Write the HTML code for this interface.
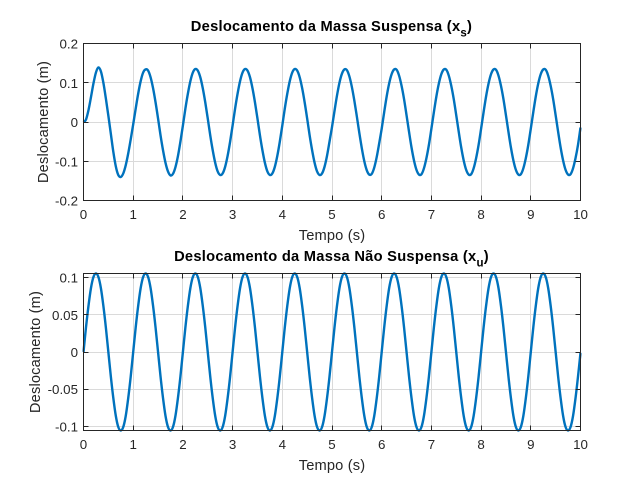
<!DOCTYPE html>
<html lang="pt">
<head>
<meta charset="utf-8">
<title>Deslocamento das Massas</title>
<style>
html,body{margin:0;padding:0;background:#fff;}
svg{display:block;font-family:"Liberation Sans",Arial,sans-serif;}
</style>
</head>
<body>
<svg id="figure" xmlns="http://www.w3.org/2000/svg" width="642" height="486" viewBox="0 0 642 486"></svg>
<script>
const timeValues = [
0,0.05,0.1,0.15,0.2,0.25,0.3,0.35,0.4,0.45,0.5,0.55,0.6,0.65,0.7,0.75,0.8,0.85,0.9,0.95,
1,1.05,1.1,1.15,1.2,1.25,1.3,1.35,1.4,1.45,1.5,1.55,1.6,1.65,1.7,1.75,1.8,1.85,1.9,1.95,
2,2.05,2.1,2.15,2.2,2.25,2.3,2.35,2.4,2.45,2.5,2.55,2.6,2.65,2.7,2.75,2.8,2.85,2.9,2.95,
3,3.05,3.1,3.15,3.2,3.25,3.3,3.35,3.4,3.45,3.5,3.55,3.6,3.65,3.7,3.75,3.8,3.85,3.9,3.95,
4,4.05,4.1,4.15,4.2,4.25,4.3,4.35,4.4,4.45,4.5,4.55,4.6,4.65,4.7,4.75,4.8,4.85,4.9,4.95,
5,5.05,5.1,5.15,5.2,5.25,5.3,5.35,5.4,5.45,5.5,5.55,5.6,5.65,5.7,5.75,5.8,5.85,5.9,5.95,
6,6.05,6.1,6.15,6.2,6.25,6.3,6.35,6.4,6.45,6.5,6.55,6.6,6.65,6.7,6.75,6.8,6.85,6.9,6.95,
7,7.05,7.1,7.15,7.2,7.25,7.3,7.35,7.4,7.45,7.5,7.55,7.6,7.65,7.7,7.75,7.8,7.85,7.9,7.95,
8,8.05,8.1,8.15,8.2,8.25,8.3,8.35,8.4,8.45,8.5,8.55,8.6,8.65,8.7,8.75,8.8,8.85,8.9,8.95,
9,9.05,9.1,9.15,9.2,9.25,9.3,9.35,9.4,9.45,9.5,9.55,9.6,9.65,9.7,9.75,9.8,9.85,9.9,9.95,
10];
const sprungDisplacement = [
0,0.006,0.030,0.063,0.098,0.126,0.139,0.129,0.100,0.060,0.016,-0.030,-0.076,-0.113,-0.135,-0.140,-0.131,-0.110,-0.080,-0.044,
-0.006,0.034,0.072,0.104,0.126,0.134,0.131,0.114,0.086,0.050,0.009,-0.034,-0.072,-0.104,-0.126,-0.136,-0.132,-0.115,-0.087,-0.050,
-0.009,0.034,0.072,0.104,0.126,0.135,0.131,0.114,0.086,0.050,0.009,-0.034,-0.072,-0.104,-0.126,-0.135,-0.131,-0.114,-0.086,-0.050,
-0.009,0.034,0.072,0.104,0.126,0.135,0.131,0.114,0.086,0.050,0.009,-0.034,-0.072,-0.104,-0.126,-0.135,-0.131,-0.114,-0.086,-0.050,
-0.009,0.034,0.072,0.104,0.126,0.135,0.131,0.114,0.086,0.050,0.009,-0.034,-0.072,-0.104,-0.126,-0.135,-0.131,-0.114,-0.086,-0.050,
-0.013,0.028,0.067,0.100,0.123,0.134,0.132,0.116,0.089,0.054,0.014,-0.028,-0.067,-0.100,-0.123,-0.134,-0.132,-0.116,-0.089,-0.054,
-0.017,0.025,0.065,0.098,0.122,0.134,0.133,0.118,0.092,0.058,0.017,-0.025,-0.065,-0.098,-0.122,-0.134,-0.133,-0.118,-0.092,-0.058,
-0.017,0.025,0.065,0.098,0.122,0.134,0.133,0.118,0.092,0.058,0.017,-0.025,-0.065,-0.098,-0.122,-0.134,-0.133,-0.118,-0.092,-0.058,
-0.017,0.025,0.065,0.098,0.122,0.134,0.133,0.118,0.092,0.058,0.017,-0.025,-0.065,-0.098,-0.122,-0.134,-0.133,-0.118,-0.092,-0.058,
-0.017,0.025,0.065,0.098,0.122,0.134,0.133,0.118,0.092,0.058,0.017,-0.025,-0.065,-0.098,-0.122,-0.134,-0.133,-0.118,-0.092,-0.058,
-0.014];
const unsprungDisplacement = [
0,0.033,0.062,0.086,0.101,0.1057,0.101,0.086,0.062,0.033,0,-0.033,-0.062,-0.086,-0.101,-0.1057,-0.101,-0.086,-0.062,-0.033,
0,0.033,0.062,0.086,0.101,0.1057,0.101,0.086,0.062,0.033,0,-0.033,-0.062,-0.086,-0.101,-0.1057,-0.101,-0.086,-0.062,-0.033,
0,0.033,0.062,0.086,0.101,0.1057,0.101,0.086,0.062,0.033,0,-0.033,-0.062,-0.086,-0.101,-0.1057,-0.101,-0.086,-0.062,-0.033,
0,0.033,0.062,0.086,0.101,0.1057,0.101,0.086,0.062,0.033,0,-0.033,-0.062,-0.086,-0.101,-0.1057,-0.101,-0.086,-0.062,-0.033,
0,0.033,0.062,0.086,0.101,0.1057,0.101,0.086,0.062,0.033,0,-0.033,-0.062,-0.086,-0.101,-0.1057,-0.101,-0.086,-0.062,-0.033,
0,0.033,0.062,0.086,0.101,0.1057,0.101,0.086,0.062,0.033,0,-0.033,-0.062,-0.086,-0.101,-0.1057,-0.101,-0.086,-0.062,-0.033,
0,0.033,0.062,0.086,0.101,0.1057,0.101,0.086,0.062,0.033,0,-0.033,-0.062,-0.086,-0.101,-0.1057,-0.101,-0.086,-0.062,-0.033,
0,0.033,0.062,0.086,0.101,0.1057,0.101,0.086,0.062,0.033,0,-0.033,-0.062,-0.086,-0.101,-0.1057,-0.101,-0.086,-0.062,-0.033,
0,0.033,0.062,0.086,0.101,0.1057,0.101,0.086,0.062,0.033,0,-0.033,-0.062,-0.086,-0.101,-0.1057,-0.101,-0.086,-0.062,-0.033,
0,0.033,0.062,0.086,0.101,0.1057,0.101,0.086,0.062,0.033,0,-0.033,-0.062,-0.086,-0.101,-0.1057,-0.101,-0.086,-0.062,-0.033,
-0.001];
const xTicks = [0,1,2,3,4,5,6,7,8,9,10];
const xTickLabels = ["0","1","2","3","4","5","6","7","8","9","10"];
const sprungYTicks = [-0.2,-0.1,0,0.1,0.2];
const sprungYTickLabels = ["-0.2","-0.1","0","0.1","0.2"];
const sprungYLimits = [-0.2,0.2];
const unsprungYTicks = [-0.1,-0.05,0,0.05,0.1];
const unsprungYTickLabels = ["-0.1","-0.05","0","0.05","0.1"];
const unsprungYLimits = [-0.1057,0.1057];
const xLimits = [0,10];

const NS = "http://www.w3.org/2000/svg";
const figure = document.getElementById("figure");

function make(parent, tag, attrs, text) {
  const el = document.createElementNS(NS, tag);
  for (const k in attrs) el.setAttribute(k, attrs[k]);
  if (text !== undefined) el.textContent = text;
  parent.appendChild(el);
  return el;
}

function smoothPath(pts) {
  let d = "M" + pts[0][0].toFixed(2) + " " + pts[0][1].toFixed(2);
  for (let i = 0; i < pts.length - 1; i++) {
    const p0 = pts[Math.max(i - 1, 0)], p1 = pts[i], p2 = pts[i + 1], p3 = pts[Math.min(i + 2, pts.length - 1)];
    const c1x = p1[0] + (p2[0] - p0[0]) / 6, c1y = p1[1] + (p2[1] - p0[1]) / 6;
    const c2x = p2[0] - (p3[0] - p1[0]) / 6, c2y = p2[1] - (p3[1] - p1[1]) / 6;
    d += "C" + c1x.toFixed(2) + " " + c1y.toFixed(2) + " " + c2x.toFixed(2) + " " + c2y.toFixed(2) + " " + p2[0].toFixed(2) + " " + p2[1].toFixed(2);
  }
  return d;
}

function drawPanel(cfg) {
  const L = 83.5, R = 580.5, T = cfg.top, B = cfg.top + 157;
  const xScale = v => L + (v - xLimits[0]) / (xLimits[1] - xLimits[0]) * (R - L);
  const yScale = v => B - (v - cfg.yLimits[0]) / (cfg.yLimits[1] - cfg.yLimits[0]) * (B - T);
  const snap = p => Math.floor(p) + 0.5;

  const g = make(figure, "g", {});
  
  

  const bg = make(g, "rect", {x: L, y: T, width: R - L, height: B - T, fill: "#fff"});
  
  

  const grid = make(g, "g", {stroke: "#dadada", "stroke-width": 1, fill: "none"});
  
  
  xTicks.forEach(v => {
    if (v === xLimits[0] || v === xLimits[1]) return;
    const x = snap(xScale(v));
    make(grid, "line", {x1: x, x2: x, y1: T, y2: B});
  });
  cfg.yTicks.forEach(v => {
    if (v === cfg.yLimits[0] || v === cfg.yLimits[1]) return;
    const y = snap(yScale(v));
    make(grid, "line", {x1: L, x2: R, y1: y, y2: y});
  });

  const clipId = "clip-" + cfg.name;
  const defs = make(g, "defs", {});
  const clip = make(defs, "clipPath", {id: clipId});
  make(clip, "rect", {x: L - 1, y: T - 1.5, width: R - L + 2, height: B - T + 3});

  const pts = timeValues.map((t, i) => [xScale(t), yScale(cfg.values[i])]);
  const line = make(g, "path", {d: smoothPath(pts), fill: "none", stroke: "#0072BD", "stroke-width": 2.4, "stroke-linejoin": "round", "clip-path": "url(#" + clipId + ")"});
  
  

  const axes = make(g, "g", {stroke: "#262626", "stroke-width": 1, fill: "none"});
  
  
  make(axes, "rect", {x: L, y: T, width: R - L, height: B - T});
  xTicks.forEach(v => {
    const x = snap(xScale(v));
    make(axes, "line", {x1: x, x2: x, y1: B, y2: B - 5});
    make(axes, "line", {x1: x, x2: x, y1: T, y2: T + 5});
  });
  cfg.yTicks.forEach(v => {
    const y = snap(yScale(v));
    make(axes, "line", {x1: L, x2: L + 5, y1: y, y2: y});
    make(axes, "line", {x1: R, x2: R - 5, y1: y, y2: y});
  });

  xTicks.forEach((v, i) => {
    const t = make(g, "text", {x: xScale(v), y: B + 18.5, "text-anchor": "middle", "font-size": 13.33, fill: "#262626"}, xTickLabels[i]);
    
    
  });
  cfg.yTicks.forEach((v, i) => {
    const t = make(g, "text", {x: 78, y: yScale(v) + 5, "text-anchor": "end", "font-size": 13.33, fill: "#262626"}, cfg.yTickLabels[i]);
    
    
  });

  const xt = make(g, "text", {x: 332, y: B + 39.5, "text-anchor": "middle", "font-size": 14.67, "letter-spacing": 0.15, fill: "#262626"}, "Tempo (s)");
  
  

  const yt = make(g, "text", {transform: "translate(" + cfg.yTitleX + " " + (T + 78.5) + ") rotate(-90)", "text-anchor": "middle", "font-size": 14.67, "letter-spacing": 0.15, fill: "#262626"}, "Deslocamento (m)");
  
  

  const title = make(g, "text", {x: 331.5, y: T - 12.7, "text-anchor": "middle", "font-size": 14.67, "font-weight": "bold", "letter-spacing": 0.27, fill: "#000"});
  
  
  make(title, "tspan", {}, cfg.title);
  make(title, "tspan", {dy: 5.5, "font-size": 11.5}, cfg.sub);
  make(title, "tspan", {dy: -5.5}, ")");
}

drawPanel({
  name: "sprung-mass-panel",
  lineName: "sprung-displacement-line",
  top: 43.5,
  values: sprungDisplacement,
  yLimits: sprungYLimits,
  yTicks: sprungYTicks,
  yTickLabels: sprungYTickLabels,
  yTitleX: 48,
  title: "Deslocamento da Massa Suspensa (x",
  sub: "s"
});
drawPanel({
  name: "unsprung-mass-panel",
  lineName: "unsprung-displacement-line",
  top: 273.5,
  values: unsprungDisplacement,
  yLimits: unsprungYLimits,
  yTicks: unsprungYTicks,
  yTickLabels: unsprungYTickLabels,
  yTitleX: 40,
  title: "Deslocamento da Massa Não Suspensa (x",
  sub: "u"
});
</script>
</body>
</html>
